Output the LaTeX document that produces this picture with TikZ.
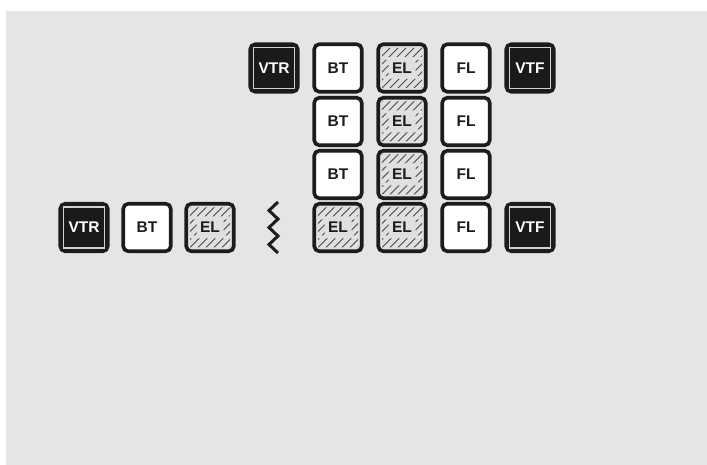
\documentclass[tikz,border=0pt]{standalone}
\usepackage{fontspec}
\setmainfont{Liberation Sans}
\definecolor{bgc}{RGB}{229,229,229}
\definecolor{darkfill}{RGB}{26,26,26}
\definecolor{elfill}{RGB}{224,224,224}
\definecolor{innerc}{RGB}{210,210,210}
\definecolor{ink}{RGB}{28,28,28}
\tikzset{
  box/.style={draw=ink, line width=3.6pt, rounded corners=5pt, minimum width=47.5pt, minimum height=47.5pt,
    inner sep=0pt, font=\bfseries\fontsize{15.5}{15.5}\selectfont},
  whitebox/.style={box, fill=white, text=ink},
  darkbox/.style={box, fill=darkfill, text=white},
  elbox/.style={box, fill=elfill, text=ink},
  innerline/.style={draw=innerc, line width=1.4pt},
  hatchline/.style={draw=ink!80, line width=0.8pt},
  zig/.style={draw=ink, line width=3pt, miter limit=10},
}
\newcommand\innerframe[1]{\draw[innerline] (#1.center) ++(-20.5,-20.5) rectangle ++(41,41);}
\newcommand\hatchbox[1]{%
  \begin{scope}
    \clip (#1.center) ++(-20,-20) rectangle ++(40,9)
          (#1.center) ++(-20,20) rectangle ++(40,-9)
          (#1.center) ++(-20,-8) rectangle ++(6.5,16)
          (#1.center) ++(20,-8) rectangle ++(-6.5,16);
    \foreach \i in {-56,-48,...,56}{
      \draw[hatchline] (#1.center) ++(\i-26,26) -- ++(52,-52);
    }
  \end{scope}}
\begin{document}
\begin{tikzpicture}[x=1pt,y=-1pt]
  \useasboundingbox (0,0) rectangle (707,465);
  \fill[bgc] (6,11) rectangle (707,465);
  % row 1
  \node[darkbox]  (vtra) at (274,68) {VTR};
  \node[whitebox] (bta)  at (338,68) {BT};
  \node[elbox]    (ela)  at (402,68) {EL};
  \node[whitebox] (fla)  at (466,68) {FL};
  \node[darkbox]  (vtfa) at (530,68) {VTF};
  % row 2
  \node[whitebox] (btb)  at (338,121.5) {BT};
  \node[elbox]    (elb)  at (402,121.5) {EL};
  \node[whitebox] (flb)  at (466,121.5) {FL};
  % row 3
  \node[whitebox] (btc)  at (338,174.5) {BT};
  \node[elbox]    (elc)  at (402,174.5) {EL};
  \node[whitebox] (flc)  at (466,174.5) {FL};
  % row 4
  \node[darkbox]  (vtrd) at (84,227.5) {VTR};
  \node[whitebox] (btd)  at (147,227.5) {BT};
  \node[elbox]    (eld)  at (210,227.5) {EL};
  \node[elbox]    (ele)  at (338,227.5) {EL};
  \node[elbox]    (elf)  at (402,227.5) {EL};
  \node[whitebox] (fld)  at (466,227.5) {FL};
  \node[darkbox]  (vtfd) at (530,227.5) {VTF};
  % decorations
  \innerframe{vtra}\innerframe{vtfa}\innerframe{vtrd}\innerframe{vtfd}
  \hatchbox{ela}\hatchbox{elb}\hatchbox{elc}\hatchbox{eld}\hatchbox{ele}\hatchbox{elf}
  % zigzag break
  \coordinate (z0) at (278,202);
  \coordinate (z1) at (269,210.5);
  \coordinate (z2) at (278,219);
  \coordinate (z3) at (269,227.5);
  \coordinate (z4) at (278,236);
  \coordinate (z5) at (269,244.5);
  \coordinate (z6) at (278,253);
  \draw[zig] (z0) -- (z1) -- (z2) -- (z3) -- (z4) -- (z5) -- (z6);
\end{tikzpicture}
\end{document}
